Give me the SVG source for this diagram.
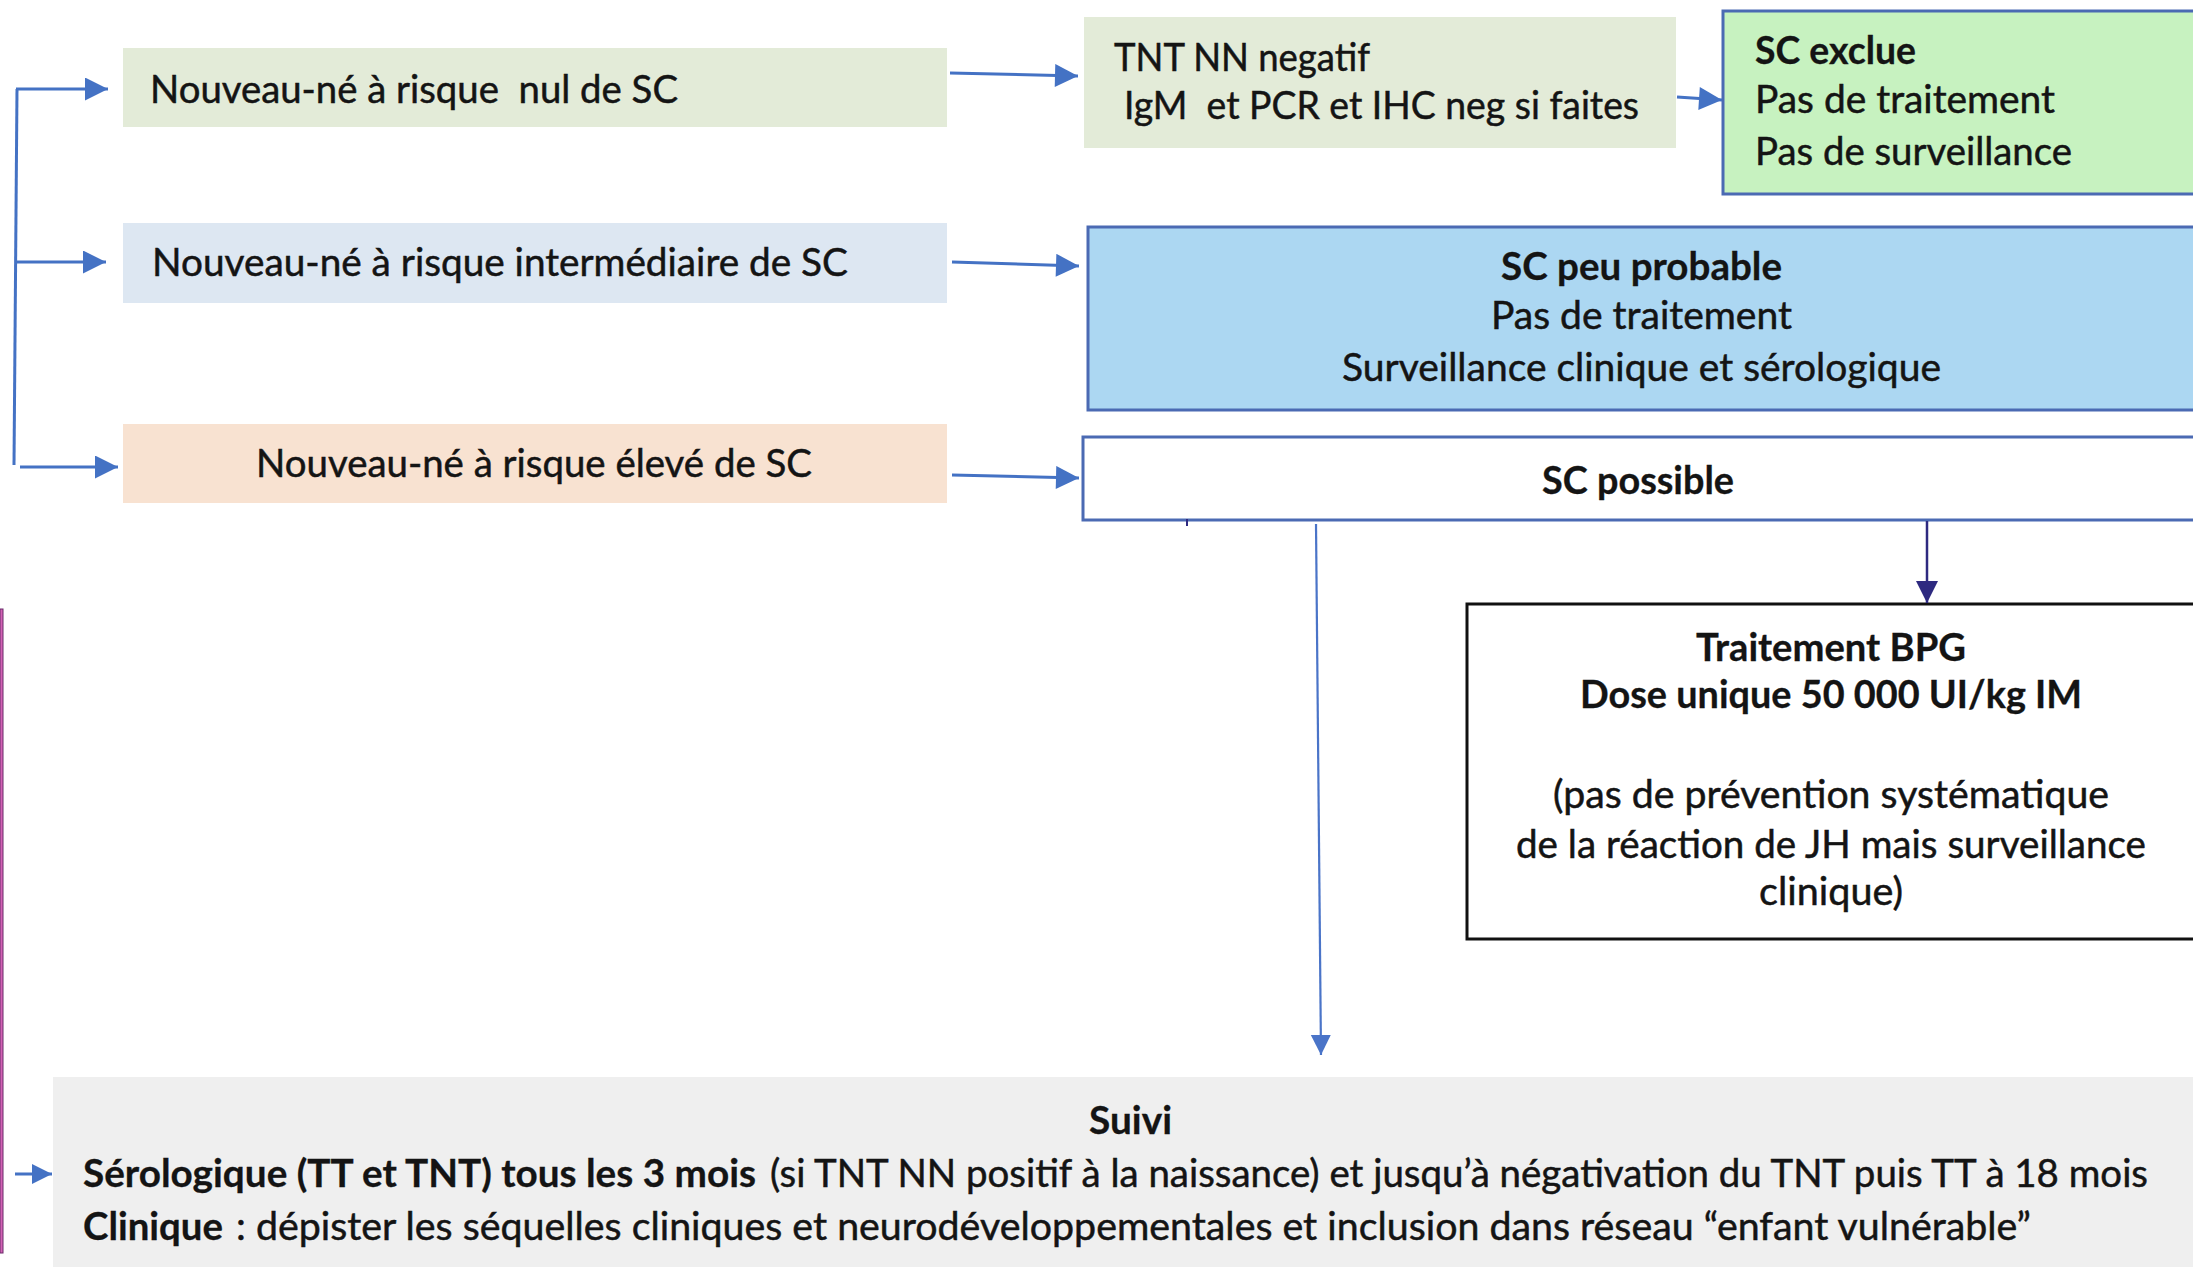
<svg xmlns="http://www.w3.org/2000/svg" width="2193" height="1267" viewBox="0 0 2193 1267">
<defs>
<style>
text{font-family:Lato,"Liberation Sans",sans-serif;font-size:39px;fill:#141414;stroke:#141414;stroke-width:0.5}
.b{font-weight:bold;stroke-width:0.3}
.conn{stroke:#4472c4;stroke-width:3;fill:none}
.thin{stroke:#4a74c8;stroke-width:2.2;fill:none}
.dark{stroke:#2e2a80;stroke-width:2.5;fill:none}
.bluebox{stroke:#4b6ab3;stroke-width:3}
</style>
<marker id="ah" viewBox="0 0 10 10" refX="10" refY="5" markerUnits="userSpaceOnUse" markerWidth="24" markerHeight="23" orient="auto"><path d="M0,0 L10,5 L0,10 z" fill="#4472c4"/></marker>
<marker id="ahs" viewBox="0 0 10 10" refX="10" refY="5" markerUnits="userSpaceOnUse" markerWidth="20" markerHeight="20" orient="auto"><path d="M0,0 L10,5 L0,10 z" fill="#4472c4"/></marker>
<marker id="ahv" viewBox="0 0 10 10" refX="10" refY="5" markerUnits="userSpaceOnUse" markerWidth="20" markerHeight="26" orient="auto"><path d="M0,0 L10,5 L0,10 z" fill="#4a74c8"/></marker>
<marker id="ahd" viewBox="0 0 10 10" refX="10" refY="5" markerUnits="userSpaceOnUse" markerWidth="23" markerHeight="22" orient="auto"><path d="M0,0 L10,5 L0,10 z" fill="#2e2a80"/></marker>
</defs>
<rect width="2193" height="1267" fill="#ffffff"/>
<rect x="0" y="609" width="3" height="644" fill="#d262b4" stroke="#6a2a6a" stroke-width="1"/>

<g id="n-nul">
<rect x="123" y="48" width="824" height="79" fill="#e3ebd8"/>
<text x="150" y="103" textLength="528" lengthAdjust="spacingAndGlyphs" xml:space="preserve">Nouveau-né à risque  nul de SC</text>
</g>
<g id="n-inter">
<rect x="123" y="223" width="824" height="80" fill="#dde7f2"/>
<text x="152" y="276" textLength="696" lengthAdjust="spacingAndGlyphs">Nouveau-né à risque intermédiaire de SC</text>
</g>
<g id="n-eleve">
<rect x="123" y="424" width="824" height="79" fill="#f8e2d1"/>
<text x="256" y="477" textLength="556" lengthAdjust="spacingAndGlyphs">Nouveau-né à risque élevé de SC</text>
</g>
<g id="n-tnt">
<rect x="1084" y="17" width="592" height="131" fill="#e3ebd8"/>
<text x="1114" y="71" textLength="256" lengthAdjust="spacingAndGlyphs">TNT NN negatif</text>
<text x="1124" y="119" textLength="515" lengthAdjust="spacingAndGlyphs" xml:space="preserve">IgM  et PCR et IHC neg si faites</text>
</g>
<g id="n-exclue">
<rect x="1723" y="11" width="480" height="183" fill="#c7f2c0" class="bluebox"/>
<text x="1755" y="64" class="b" textLength="161" lengthAdjust="spacingAndGlyphs">SC exclue</text>
<text x="1755" y="113" textLength="300" lengthAdjust="spacingAndGlyphs">Pas de traitement</text>
<text x="1755" y="165" textLength="317" lengthAdjust="spacingAndGlyphs">Pas de surveillance</text>
</g>
<g id="n-peu">
<rect x="1088" y="227" width="1115" height="183" fill="#acd7f2" class="bluebox"/>
<text x="1501" y="280" class="b" textLength="281" lengthAdjust="spacingAndGlyphs">SC peu probable</text>
<text x="1491" y="329" textLength="301" lengthAdjust="spacingAndGlyphs">Pas de traitement</text>
<text x="1342" y="381" textLength="599" lengthAdjust="spacingAndGlyphs">Surveillance clinique et sérologique</text>
</g>
<g id="n-possible">
<rect x="1083" y="437" width="1120" height="83" fill="#ffffff" class="bluebox"/>
<text x="1542" y="494" class="b" textLength="192" lengthAdjust="spacingAndGlyphs">SC possible</text>
</g>
<g id="n-bpg">
<rect x="1467" y="604" width="740" height="335" fill="#ffffff" stroke="#111111" stroke-width="3"/>
<text x="1696" y="661" class="b" textLength="270" lengthAdjust="spacingAndGlyphs">Traitement BPG</text>
<text x="1580" y="708" class="b" textLength="502" lengthAdjust="spacingAndGlyphs">Dose unique 50 000 UI/kg IM</text>
<text x="1553" y="808" textLength="556" lengthAdjust="spacingAndGlyphs">(pas de prévention systématique</text>
<text x="1516" y="858" textLength="630" lengthAdjust="spacingAndGlyphs">de la réaction de JH mais surveillance</text>
<text x="1759" y="905" textLength="144" lengthAdjust="spacingAndGlyphs">clinique)</text>
</g>
<g id="n-suivi">
<rect x="53" y="1077" width="2150" height="200" fill="#efefef"/>
<text x="1089" y="1134" class="b" textLength="83" lengthAdjust="spacingAndGlyphs">Suivi</text>
<text x="83" y="1187" class="b" textLength="673" lengthAdjust="spacingAndGlyphs">Sérologique (TT et TNT) tous les 3 mois</text>
<text x="770" y="1187" textLength="1378" lengthAdjust="spacingAndGlyphs">(si TNT NN positif à la naissance) et jusqu’à négativation du TNT puis TT à 18 mois</text>
<text x="83" y="1240" class="b" textLength="140" lengthAdjust="spacingAndGlyphs">Clinique</text>
<text x="236" y="1240" textLength="1795" lengthAdjust="spacingAndGlyphs">: dépister les séquelles cliniques et neurodéveloppementales et inclusion dans réseau “enfant vulnérable”</text>
</g>

<g id="connectors">
<path class="conn" d="M17,89 L14,465"/>
<path class="conn" d="M16,89 L108,89" marker-end="url(#ah)"/>
<path class="conn" d="M16,262 L106,262" marker-end="url(#ah)"/>
<path class="conn" d="M20,467 L118,467" marker-end="url(#ah)"/>
<path class="conn" d="M950,73 L1078,76" marker-end="url(#ah)"/>
<path class="conn" d="M952,262 L1079,266" marker-end="url(#ah)"/>
<path class="conn" d="M952,475 L1079,478" marker-end="url(#ah)"/>
<path class="conn" d="M1677,97 L1722,100" marker-end="url(#ah)"/>
<path class="thin" d="M1316,524 L1321,1055" marker-end="url(#ahv)"/>
<path class="dark" d="M1927,521 L1927,603" marker-end="url(#ahd)"/>
<path d="M1187,519 L1187,526" stroke="#2e2a80" stroke-width="2"/>
<path class="conn" d="M15,1174 L52,1174" marker-end="url(#ahs)"/>
</g>
</svg>
